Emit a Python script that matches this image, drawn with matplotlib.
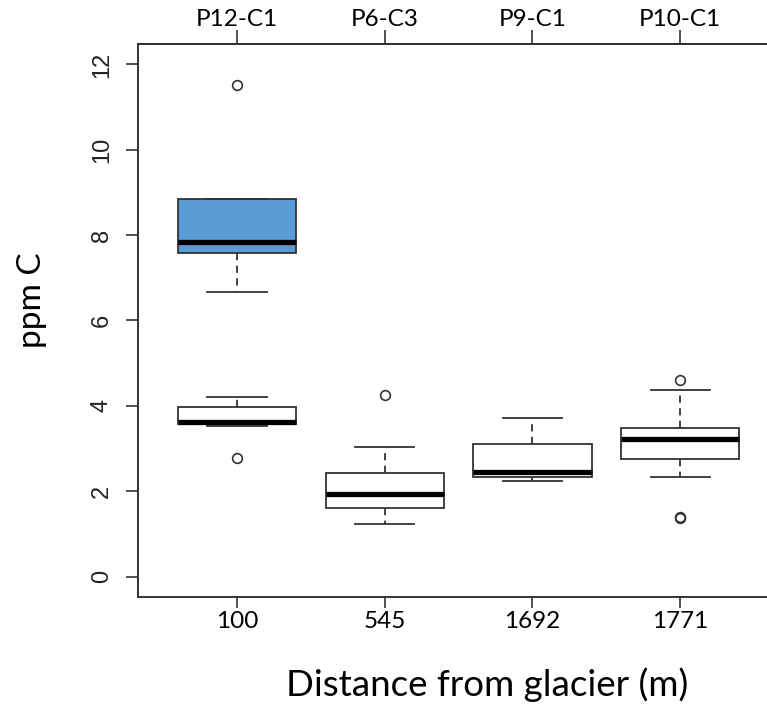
import matplotlib.pyplot as plt

# sampling sites (top axis) and distance from glacier (bottom axis)
sites = ['P12-C1', 'P6-C3', 'P9-C1', 'P10-C1']
distance = ['100', '545', '1692', '1771']

# box summaries for each site, ppm C
q1 = [3.57, 1.61, 2.34, 2.76]
med = [3.62, 1.94, 2.46, 3.23]
q3 = [3.98, 2.43, 3.11, 3.49]
whislo = [3.53, 1.22, 2.25, 2.34]
whishi = [4.21, 3.04, 3.72, 4.37]
fliers = [[2.78], [4.26], [], [4.61, 1.40, 1.38]]

# second group measured at P12-C1
hi_q1, hi_med, hi_q3 = 7.58, 7.84, 8.84
hi_whislo, hi_whishi = 6.67, 8.84
hi_fliers = [11.53]

fig = plt.figure(figsize=(7.67, 7.08), dpi=100)
ax = fig.add_axes([138 / 767, 111 / 708, 653 / 767, 553 / 708])

stats = [dict(q1=a, med=b, q3=c, whislo=d, whishi=e, fliers=f)
         for a, b, c, d, e, f in zip(q1, med, q3, whislo, whishi, fliers)]
hi_stats = [dict(q1=hi_q1, med=hi_med, q3=hi_q3, whislo=hi_whislo,
                 whishi=hi_whishi, fliers=hi_fliers)]

edge = '#333333'
common = dict(widths=0.8, capwidths=0.4, patch_artist=True, showfliers=True,
              whiskerprops=dict(color=edge, lw=1.3, linestyle=(0, (4, 3))),
              capprops=dict(color=edge, lw=1.3),
              medianprops=dict(color='black', lw=3.8, solid_capstyle='butt'),
              flierprops=dict(marker='o', mfc='none', mec=edge, ms=7, mew=1.2))

ax.bxp(hi_stats, positions=[1],
       boxprops=dict(facecolor='#5b9bd5', edgecolor=edge, lw=1.3), **common)
ax.bxp(stats, positions=[1, 2, 3, 4],
       boxprops=dict(facecolor='white', edgecolor=edge, lw=1.3), **common)

ax.set_xlim(0.33, 4.75)
ax.set_ylim(-0.48, 12.48)

ax.set_yticks(range(0, 13, 2))
ax.set_yticklabels([str(v) for v in range(0, 13, 2)],
                   fontfamily='Liberation Sans', fontsize=17, color='#222222',
                   rotation=90, va='center')
ax.tick_params(axis='y', length=9, width=1.2, color=edge, pad=9)

ax.set_xticks([1, 2, 3, 4])
ax.set_xticklabels(distance, fontfamily='Lato', fontsize=17.5)
ax.tick_params(axis='x', length=8, width=1.2, color=edge, pad=2)

top = ax.secondary_xaxis('top')
top.set_xticks([1, 2, 3, 4])
top.set_xticklabels(sites, fontfamily='Lato', fontsize=17.5)
top.tick_params(axis='x', length=10, width=1.2, color=edge, pad=0)
top.spines['top'].set_linewidth(1.4)
top.spines['top'].set_color(edge)

for s in ax.spines.values():
    s.set_linewidth(1.4)
    s.set_color(edge)

fig.text(32 / 767, 1 - 300 / 708, 'ppm C', fontfamily='Lato', fontsize=24,
         rotation=90, ha='center', va='center')
fig.text(487 / 767, 1 - 685 / 708, 'Distance from glacier (m)',
         fontfamily='Lato', fontsize=26.5, ha='center', va='center')

fig.savefig('out.png', dpi=100)
